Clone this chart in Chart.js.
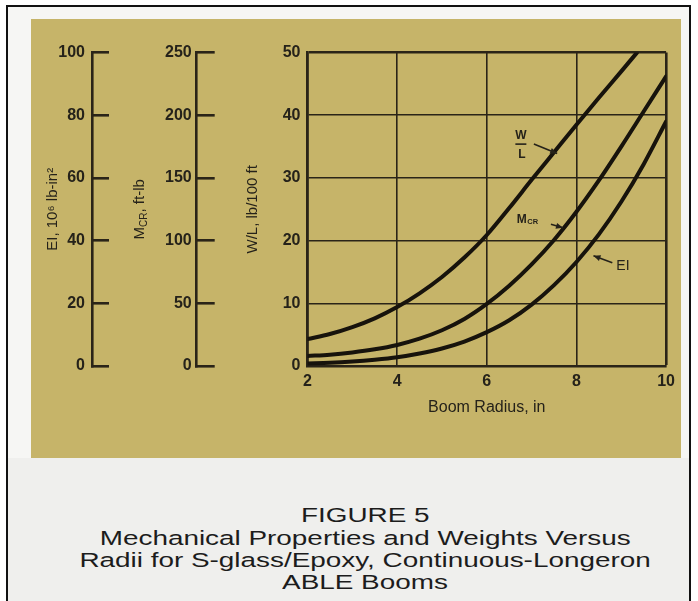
<!DOCTYPE html>
<html>
<head>
<meta charset="utf-8">
<script src="https://cdn.jsdelivr.net/npm/chart.js@4"></script>
<style>
html,body{margin:0;padding:0;background:#ffffff;width:698px;height:601px;overflow:hidden;}
#frame{position:absolute;left:6px;top:5px;width:681px;height:640px;border:2px solid #111;border-bottom:none;background:#f6f6f4;}
#below{position:absolute;left:8px;top:458px;width:681px;height:160px;background:#efefed;}
#panel{position:absolute;left:31px;top:19px;width:650px;height:439px;background:#c6b469;}
.ln{position:absolute;left:0;width:730px;text-align:center;font-family:"Liberation Sans",Arial,sans-serif;font-size:20.5px;line-height:22px;color:#1c1c1c;white-space:nowrap;}
.ln span{display:inline-block;transform:scaleX(1.36);transform-origin:center;}
</style>
</head>
<body>
<div id="frame"></div>
<div id="below"></div>
<div id="panel"><canvas id="c" width="650" height="439"></canvas></div>
<div class="ln" style="top:504px"><span>FIGURE 5</span></div>
<div class="ln" style="top:527px"><span>Mechanical Properties and Weights Versus</span></div>
<div class="ln" style="top:549px"><span>Radii for S-glass/Epoxy, Continuous-Longeron</span></div>
<div class="ln" style="top:571px"><span>ABLE Booms</span></div>
<script>
// ---- data ----
const radius = [2, 2.5, 3, 3.5, 4, 4.5, 5, 5.5, 6, 6.5, 7, 7.5, 8, 8.5, 9, 9.5, 10];      // Boom radius, in
const eiValues = [0.8, 1.0, 1.4, 2.0, 2.8, 4.0, 5.6, 7.8, 10.8, 14.6, 19.6, 25.8, 33.2, 42, 52.4, 64.4, 78]; // EI, 10^6 lb-in^2
const mcrValues = [8, 9, 10.8, 13.3, 16.8, 21.8, 28.5, 37.5, 49.5, 64, 81, 100.5, 123, 148, 175, 203, 231]; // M_CR, ft-lb
const wlRadius = [2, 2.5, 3, 3.5, 4, 4.5, 5, 5.5, 6, 6.5, 7, 7.5, 8, 8.5, 9, 9.35];
const wlValues = [4.3, 5.1, 6.2, 7.6, 9.4, 11.6, 14.2, 17.3, 20.9, 25.2, 29.7, 34.1, 38.5, 42.8, 47.0, 50]; // W/L, lb/100 ft

const radiusTicks = [2, 4, 6, 8, 10];
const eiTicks = [0, 20, 40, 60, 80, 100];
const mcrTicks = [0, 50, 100, 150, 200, 250];
const wlTicks = [0, 10, 20, 30, 40, 50];

// curve labels, anchored in data coordinates (x: radius, y: W/L scale)
const labelWL = {x: 6.76, y: 35.4, tail: [7.05, 35.4], tip: [7.57, 33.9]};
const labelMCR = {x: 6.67, y: 23.4, tail: [7.43, 22.6], tip: [7.70, 22.05]};
const labelEI = {x: 8.89, y: 16.0, tail: [8.80, 16.46], tip: [8.38, 17.6]};

const FONT = '"Liberation Sans", Arial, sans-serif';
const INK = '#17130c';
const GRID = '#2a2418';
const TXT = '#25221a';

const toXY = (xs, ys) => xs.map((x, i) => ({x: x, y: ys[i]}));
const setTicks = arr => s => { s.ticks = arr.map(v => ({value: v})); };

function arrow(ctx, x1, y1, x2, y2) {
  ctx.beginPath(); ctx.moveTo(x1, y1); ctx.lineTo(x2, y2); ctx.stroke();
  const a = Math.atan2(y2 - y1, x2 - x1), L = 7, W = 3;
  ctx.beginPath();
  ctx.moveTo(x2, y2);
  ctx.lineTo(x2 - L * Math.cos(a) + W * Math.sin(a), y2 - L * Math.sin(a) - W * Math.cos(a));
  ctx.lineTo(x2 - L * Math.cos(a) - W * Math.sin(a), y2 - L * Math.sin(a) + W * Math.cos(a));
  ctx.closePath(); ctx.fill();
}

const annot = {
  id: 'annot',
  afterDraw(chart) {
    const ctx = chart.ctx, xs = chart.scales.x, ys = chart.scales.yWL, yM = chart.scales.yM;
    const px = v => xs.getPixelForValue(v), py = v => ys.getPixelForValue(v);
    ctx.save();
    ctx.fillStyle = TXT; ctx.strokeStyle = TXT;
    // M_CR axis title (rotated, with subscript)
    const cy = (chart.chartArea.top + chart.chartArea.bottom) / 2;
    ctx.save();
    ctx.translate(yM.left + 48, cy); ctx.rotate(-Math.PI / 2);
    ctx.textBaseline = 'middle'; ctx.textAlign = 'left';
    ctx.font = '15px ' + FONT; const w1 = ctx.measureText('M').width;
    ctx.font = '10px ' + FONT; const w2 = ctx.measureText('CR').width;
    ctx.font = '15px ' + FONT; const w3 = ctx.measureText(', ft-lb').width;
    let s = -(w1 + w2 + w3) / 2;
    ctx.fillText('M', s, 0);
    ctx.font = '10px ' + FONT; ctx.fillText('CR', s + w1, 4);
    ctx.font = '15px ' + FONT; ctx.fillText(', ft-lb', s + w1 + w2, 0);
    ctx.restore();

    ctx.lineWidth = 1.6;
    // W/L fraction label
    ctx.textAlign = 'center'; ctx.textBaseline = 'middle';
    ctx.font = 'bold 12px ' + FONT;
    const wx = px(labelWL.x), wy = py(labelWL.y);
    ctx.fillText('W', wx, wy - 8.5);
    ctx.fillText('L', wx + 1, wy + 10.5);
    ctx.beginPath(); ctx.moveTo(wx - 5.5, wy); ctx.lineTo(wx + 5.5, wy); ctx.stroke();
    arrow(ctx, px(labelWL.tail[0]), py(labelWL.tail[1]), px(labelWL.tip[0]), py(labelWL.tip[1]));
    // M_CR label
    ctx.textAlign = 'left';
    const mx = px(labelMCR.x), my = py(labelMCR.y);
    ctx.font = 'bold 12px ' + FONT; const mw = ctx.measureText('M').width;
    ctx.fillText('M', mx, my);
    ctx.font = 'bold 7.5px ' + FONT; ctx.fillText('CR', mx + mw + 0.5, my + 3);
    arrow(ctx, px(labelMCR.tail[0]), py(labelMCR.tail[1]), px(labelMCR.tip[0]), py(labelMCR.tip[1]));
    // EI label
    ctx.font = '14px ' + FONT;
    ctx.fillText('EI', px(labelEI.x), py(labelEI.y));
    arrow(ctx, px(labelEI.tail[0]), py(labelEI.tail[1]), px(labelEI.tip[0]), py(labelEI.tip[1]));
    ctx.restore();
  }
};

const lineStyle = {borderColor: INK, borderWidth: 4, pointRadius: 0, fill: false, cubicInterpolationMode: 'monotone', borderCapStyle: 'round'};
const tickFont = {family: FONT, size: 16, weight: 'bold'};

new Chart(document.getElementById('c'), {
  type: 'line',
  data: {
    datasets: [
      Object.assign({label: 'EI', data: toXY(radius, eiValues), yAxisID: 'yEI'}, lineStyle),
      Object.assign({label: 'M_CR', data: toXY(radius, mcrValues), yAxisID: 'yM'}, lineStyle),
      Object.assign({label: 'W/L', data: toXY(wlRadius, wlValues), yAxisID: 'yWL'}, lineStyle)
    ]
  },
  options: {
    responsive: false,
    animation: false,
    devicePixelRatio: 1,
    layout: {padding: {left: 0, top: 22, right: 13, bottom: 41}},
    plugins: {legend: {display: false}, tooltip: {enabled: false}},
    scales: {
      x: {
        type: 'linear', position: 'bottom', min: 2, max: 10,
        afterBuildTicks: setTicks(radiusTicks),
        afterFit: s => { s.height = 51; },
        grid: {color: GRID, lineWidth: c => (c.tick && c.tick.value === 10) ? 2.6 : 1.6, drawTicks: false},
        border: {display: true, color: GRID, width: 2.6},
        ticks: {color: TXT, font: tickFont, padding: 6, maxRotation: 0, autoSkip: false},
        title: {display: true, text: 'Boom Radius, in', color: TXT, font: {family: FONT, size: 16}, padding: {top: 0, bottom: 0}}
      },
      yEI: {
        type: 'linear', position: 'left', weight: 3, min: 0, max: 100,
        afterBuildTicks: setTicks(eiTicks),
        afterFit: s => { s.width = 61; },
        grid: {display: true, drawOnChartArea: false, drawTicks: true, tickLength: -17, color: GRID, lineWidth: 2.6, tickColor: GRID, tickWidth: 2.6},
        border: {display: true, color: GRID, width: 2.6},
        ticks: {color: TXT, font: tickFont, padding: 24, autoSkip: false},
        title: {display: true, text: 'EI, 10\u2076 lb-in\u00b2', color: TXT, font: {family: FONT, size: 15}, padding: {top: 13, bottom: 0}}
      },
      yM: {
        type: 'linear', position: 'left', weight: 2, min: 0, max: 250,
        afterBuildTicks: setTicks(mcrTicks),
        afterFit: s => { s.width = 104.7; },
        grid: {display: true, drawOnChartArea: false, drawTicks: true, tickLength: -18, color: GRID, lineWidth: 2.6, tickColor: GRID, tickWidth: 2.6},
        border: {display: true, color: GRID, width: 2.6},
        ticks: {color: TXT, font: tickFont, padding: 23, autoSkip: false},
        title: {display: false}
      },
      yWL: {
        type: 'linear', position: 'left', weight: 1, min: 0, max: 50,
        afterBuildTicks: setTicks(wlTicks),
        afterFit: s => { s.width = 110.8; },
        grid: {color: GRID, lineWidth: c => (c.tick && c.tick.value === 50) ? 2.6 : 1.6, drawTicks: false},
        border: {display: true, color: GRID, width: 2.6},
        ticks: {color: TXT, font: tickFont, padding: 7, autoSkip: false},
        title: {display: true, text: 'W/L, lb/100 ft', color: TXT, font: {family: FONT, size: 15}, padding: {top: 47, bottom: 0}}
      }
    }
  },
  plugins: [annot]
});
</script>
</body>
</html>
